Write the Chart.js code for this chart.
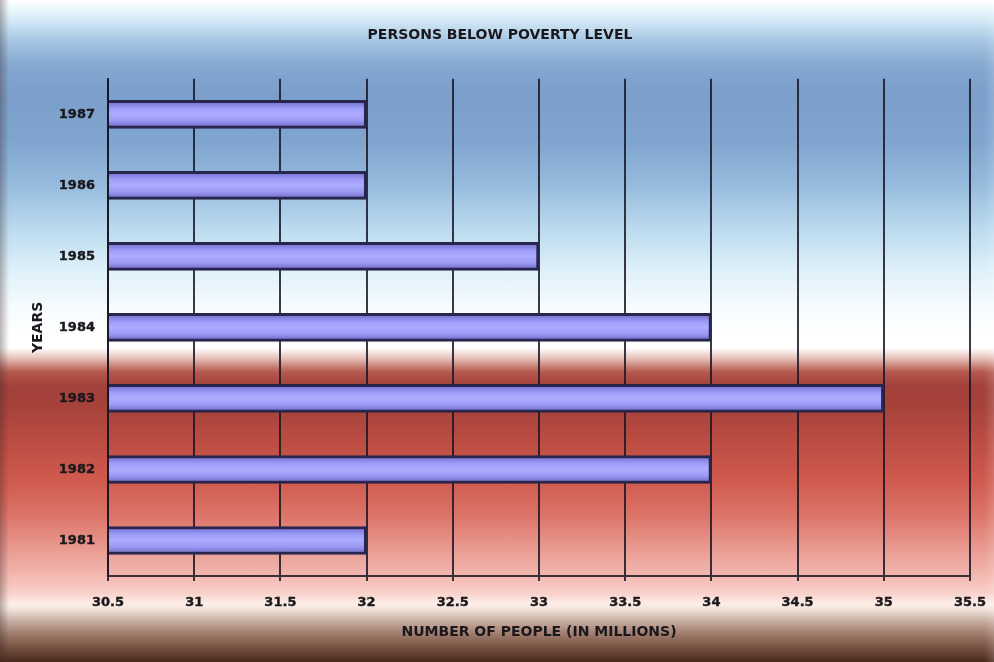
<!DOCTYPE html>
<html>
<head>
<meta charset="utf-8">
<script src="https://cdn.jsdelivr.net/npm/chart.js@4"></script>
<style>
  html, body { margin: 0; padding: 0; }
  body {
    width: 994px;
    height: 662px;
    overflow: hidden;
    background:
      linear-gradient(to right, rgba(60,40,40,0.35) 0px, rgba(60,40,40,0) 9px, rgba(0,0,0,0) 984px, rgba(255,255,255,0.15) 994px),
      linear-gradient(to bottom, #ffffff 0px, #eef9fd 8px, #cfe6f4 22px, #a4c4e2 42px, #84a8d0 66px, #7b9fca 95px,
        #7fa5cf 140px, #96bbdd 185px, #bcdbef 230px, #def0f9 270px, #f5fbfe 305px, #ffffff 335px, #ffffff 348px,
        #e7c2ba 358px, #b4584c 372px, #a2403a 387px, #a5423a 405px, #bb4c42 440px, #d05a4e 480px, #dc7468 515px,
        #e8968c 545px, #f1b4ac 572px, #f8cfc8 592px, #fdeee8 604px, #efe0d8 610px, #cbb2a6 620px, #9c7868 635px,
        #6e4a3a 650px, #4a2a1e 662px);
  }
  canvas { display: block; }
</style>
</head>
<body>
<canvas id="povertyChart" width="994" height="662"></canvas>
<script>
// Persons below poverty level, millions
const years = ['1981', '1982', '1983', '1984', '1985', '1986', '1987'];
const persons = [32, 34, 35, 34, 33, 32, 32];
const xTicks = [30.5, 31, 31.5, 32, 32.5, 33, 33.5, 34, 34.5, 35, 35.5];

const FONT = 'DejaVu Sans, Verdana, sans-serif';
const INK = '#1a181c';
const GRID = 'rgba(25, 22, 38, 0.85)';

// lavender bar with a rounded, tube-like shading
function barFill(c) {
  const chart = c.chart;
  const y = chart.scales && chart.scales.y;
  if (!y || c.type !== 'data') return '#9e9cf8';
  const mid = y.getPixelForValue(c.dataIndex);
  if (!isFinite(mid)) return '#9e9cf8';
  const g = chart.ctx.createLinearGradient(0, mid - 14, 0, mid + 14);
  g.addColorStop(0, '#6a68c8');
  g.addColorStop(0.3, '#a09efa');
  g.addColorStop(0.5, '#acacff');
  g.addColorStop(0.72, '#9c9af4');
  g.addColorStop(1, '#6664c0');
  return g;
}

const tickFont = { family: FONT, size: 13, weight: 'bold' };
const titleFont = { family: FONT, size: 14, weight: 'bold' };

const ctx = document.getElementById('povertyChart').getContext('2d');
new Chart(ctx, {
  type: 'bar',
  data: {
    labels: years,
    datasets: [{
      label: 'Persons',
      data: persons,
      base: xTicks[0],
      backgroundColor: barFill,
      borderColor: '#28264c',
      borderWidth: 3,
      borderSkipped: 'start',
      barThickness: 28
    }]
  },
  options: {
    indexAxis: 'y',
    responsive: false,
    animation: false,
    devicePixelRatio: 1,
    layout: { padding: { left: 30, right: 24, top: 0, bottom: 0 } },
    plugins: {
      legend: { display: false },
      tooltip: { enabled: false },
      title: {
        display: true,
        text: 'PERSONS BELOW POVERTY LEVEL',
        color: INK,
        font: titleFont,
        padding: { top: 27, bottom: 35 }
      }
    },
    scales: {
      x: {
        type: 'linear',
        min: xTicks[0],
        max: xTicks[xTicks.length - 1],
        afterBuildTicks: s => { s.ticks = xTicks.map(v => ({ value: v })); },
        afterFit: s => { s.height = 86; s.paddingLeft = 0; s.paddingRight = 0; },
        ticks: {
          color: INK,
          font: tickFont,
          padding: 14,
          maxRotation: 0,
          textStrokeColor: INK,
          textStrokeWidth: 0.4,
          callback: v => String(v)
        },
        grid: { color: GRID, lineWidth: 2, tickLength: 5, tickColor: GRID },
        border: { color: GRID, width: 2 },
        title: {
          display: true,
          text: 'NUMBER OF PEOPLE (IN MILLIONS)',
          color: INK,
          font: titleFont,
          padding: { top: 0, bottom: 21 }
        }
      },
      y: {
        reverse: true,
        afterFit: s => { s.width = 78; },
        ticks: {
          color: INK,
          font: tickFont,
          padding: 13,
          textStrokeColor: INK,
          textStrokeWidth: 0.4
        },
        grid: { display: false, drawTicks: false },
        border: { color: GRID, width: 2 },
        title: {
          display: true,
          text: 'YEARS',
          color: INK,
          font: titleFont,
          padding: { top: 0, bottom: 0 }
        }
      }
    }
  }
});
</script>
</body>
</html>
